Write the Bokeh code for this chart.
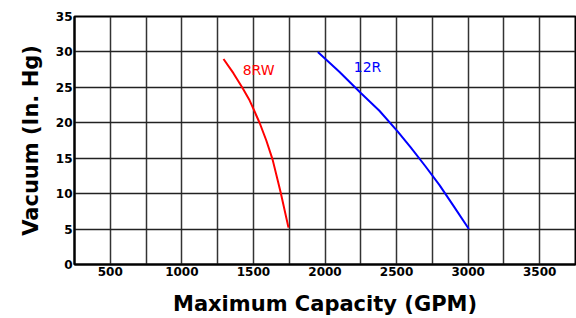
from bokeh.plotting import figure
from bokeh.models import Range1d, FixedTicker, ColumnDataSource
from bokeh.core.properties import value
from bokeh.embed import file_html
from bokeh.resources import INLINE

# data
gpm_8rw = [1291, 1360, 1424, 1470, 1508, 1545, 1590, 1634, 1690, 1745]
vac_8rw = [29.0, 27.0, 24.9, 23.3, 21.6, 19.9, 17.5, 14.8, 10.2, 5.2]
gpm_12r = [1950, 2100, 2250, 2380, 2507, 2600, 2700, 2800, 2900, 3005]
vac_12r = [30.0, 27.2, 24.2, 21.7, 18.8, 16.5, 13.9, 11.2, 8.2, 5.0]
series_names = ["8RW", "12R"]
label_x = [1536, 2297]
label_y = [27.4, 27.9]
x_major = [500, 1000, 1500, 2000, 2500, 3000, 3500]
x_minor = [250, 750, 1250, 1750, 2250, 2750, 3250, 3750]
y_major = [0, 5, 10, 15, 20, 25, 30, 35]

FONT = "DejaVu Sans"

p = figure(width=576, height=318, output_backend="svg", toolbar_location=None,
           x_range=Range1d(250, 3750), y_range=Range1d(0, 35),
           min_border_left=74, min_border_top=16, min_border_bottom=52,
           min_border_right=1)
p.background_fill_color = "white"
p.border_fill_color = "white"
p.outline_line_color = "black"
p.outline_line_width = 2

p.xaxis.ticker = FixedTicker(ticks=x_major, minor_ticks=x_minor)
p.yaxis.ticker = FixedTicker(ticks=y_major)
for ax in (p.xaxis, p.yaxis):
    ax.axis_line_color = "black"
    ax.axis_line_width = 2
    ax.major_tick_line_color = None
    ax.minor_tick_line_color = None
    ax.major_tick_out = 0
    ax.major_tick_in = 0
    ax.minor_tick_out = 0
    ax.major_label_text_font = FONT
    ax.major_label_text_font_style = "bold"
    ax.major_label_text_font_size = "12px"
    ax.major_label_text_color = "black"
    ax.axis_label_text_font = FONT
    ax.axis_label_text_font_style = "bold"
    ax.axis_label_text_font_size = "21px"
    ax.axis_label_text_color = "black"
    ax.major_label_standoff = 2

p.xaxis.axis_label = "Maximum Capacity (GPM)"
p.yaxis.axis_label = "Vacuum (In. Hg)"
p.xaxis.axis_label_standoff = 13
p.yaxis.axis_label_standoff = 10

p.xgrid.grid_line_color = "#333333"
p.xgrid.grid_line_width = 1.5
p.xgrid.minor_grid_line_color = "#333333"
p.xgrid.minor_grid_line_width = 1.5
p.ygrid.grid_line_color = "#222222"
p.ygrid.grid_line_width = 1.5

p.line(gpm_8rw, vac_8rw, line_color="#ff0000", line_width=2)
p.line(gpm_12r, vac_12r, line_color="#0000ff", line_width=2)

src = ColumnDataSource(dict(x=label_x, y=label_y, t=series_names,
                            c=["#ff0000", "#0000ff"]))
p.text(x="x", y="y", text="t", text_color="c", source=src,
       text_font=value(FONT), text_font_size="14px",
       text_align="center", text_baseline="middle")

open("out.html", "w").write(file_html(p, INLINE))
